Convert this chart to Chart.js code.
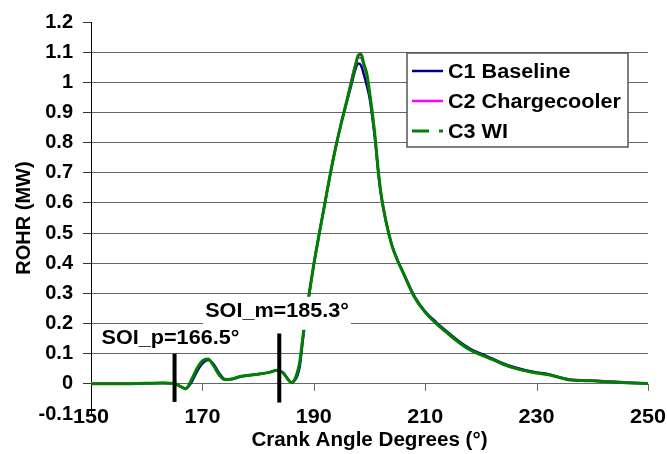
<!DOCTYPE html>
<html>
<head>
<meta charset="utf-8">
<script src="https://cdn.jsdelivr.net/npm/chart.js@4/dist/chart.umd.min.js"></script>
<style>
  html, body { margin: 0; padding: 0; background: #fff; }
  #wrap { width: 667px; height: 454px; }
</style>
</head>
<body>
<div id="wrap"><canvas id="rohrChart" width="667" height="454"></canvas></div>
<script>
// crank angle (deg) shared by all three runs
const crankAngle = [150, 155, 160, 163, 165, 166, 167, 168, 169, 170,
    171, 172, 173, 174, 175, 177, 180, 182, 183.5, 184.5,
    185.5, 186, 186.5, 187, 187.5, 188, 188.5, 189, 190, 191,
    192, 193, 194, 195, 196, 197, 197.5, 198, 198.5, 199,
    199.5, 200, 200.5, 201, 201.5, 202, 203, 204, 205, 206,
    208, 210, 212, 214, 216, 218, 220, 222, 224, 226,
    228, 230, 232, 234, 236, 238, 240, 243, 246, 250]

// ROHR (MW)
const rohrBaseline = [0, 0, 0.002, 0.003, 0.001, -0.008, -0.016, 0.004, 0.04, 0.068,
    0.079, 0.066, 0.036, 0.016, 0.015, 0.025, 0.032, 0.038, 0.045, 0.036,
    0.012, 0.004, 0.01, 0.025, 0.06, 0.14, 0.215, 0.275, 0.395, 0.5,
    0.6, 0.7, 0.79, 0.87, 0.94, 1.01, 1.045, 1.062, 1.055, 1.025,
    0.99, 0.95, 0.885, 0.81, 0.715, 0.635, 0.535, 0.462, 0.412, 0.372,
    0.293, 0.24, 0.204, 0.172, 0.142, 0.117, 0.1, 0.084, 0.068, 0.055,
    0.045, 0.038, 0.033, 0.022, 0.014, 0.011, 0.01, 0.007, 0.004, 0.001]

const rohrChargecooler = [0, 0, 0.002, 0.003, 0.001, -0.008, -0.016, 0.012, 0.05, 0.076,
    0.082, 0.06, 0.03, 0.014, 0.015, 0.025, 0.032, 0.038, 0.045, 0.036,
    0.012, 0.004, 0.012, 0.035, 0.075, 0.15, 0.22, 0.28, 0.397, 0.5,
    0.6, 0.7, 0.79, 0.87, 0.945, 1.03, 1.062, 1.082, 1.08, 1.05,
    1.02, 0.965, 0.895, 0.815, 0.718, 0.638, 0.535, 0.46, 0.41, 0.37,
    0.29, 0.237, 0.2, 0.168, 0.138, 0.113, 0.096, 0.081, 0.065, 0.052,
    0.043, 0.036, 0.031, 0.022, 0.015, 0.013, 0.011, 0.009, 0.006, 0.002]

const rohrWI = [0, 0, 0.002, 0.003, 0.001, -0.008, -0.016, 0.012, 0.05, 0.076,
    0.082, 0.06, 0.03, 0.014, 0.015, 0.025, 0.032, 0.038, 0.045, 0.036,
    0.012, 0.004, 0.012, 0.035, 0.075, 0.15, 0.22, 0.28, 0.397, 0.5,
    0.6, 0.7, 0.79, 0.87, 0.945, 1.02, 1.058, 1.09, 1.093, 1.06,
    1.03, 0.97, 0.9, 0.82, 0.72, 0.64, 0.535, 0.46, 0.41, 0.37,
    0.29, 0.237, 0.2, 0.168, 0.138, 0.113, 0.096, 0.081, 0.065, 0.052,
    0.043, 0.036, 0.031, 0.022, 0.013, 0.011, 0.01, 0.007, 0.004, 0.001]

const seriesLabels = ['C1 Baseline', 'C2 Chargecooler', 'C3 WI']
const seriesColors = ['#000080', '#ff00ff', '#008000']

// start of injection markers
const soiAngle = [165, 183.8]
const soiTop = [0.1, 0.167]
const soiBottom = [-0.06, -0.062]
const soiText = ['SOI_p=166.5°', 'SOI_m=185.3°']
const soiTextAt = [[151.9, 0.151], [170.5, 0.239]]

const xTickValues = [150, 170, 190, 210, 230, 250]
const yTickValues = [-0.1, 0, 0.1, 0.2, 0.3, 0.4, 0.5, 0.6, 0.7, 0.8, 0.9, 1, 1.1, 1.2]
const xTitle = 'Crank Angle Degrees (°)'

const FONT = 'Arial, "Liberation Sans", sans-serif'
Chart.defaults.font.family = FONT
Chart.defaults.color = '#000'

function toPoints(ys) {
    return crankAngle.map((x, i) => ({ x: x, y: ys[i] }))
}

// the picture's text runs a little wide, so stretch it sideways
function wideText(ctx, t, x, y, align, k) {
    k = k || 1.08
    const w = ctx.measureText(t).width * k
    let left = x
    if (align === 'center') left = x - w / 2
    ctx.save()
    ctx.translate(left, y)
    ctx.scale(k, 1)
    ctx.textAlign = 'left'
    ctx.fillText(t, 0, 0)
    ctx.restore()
    return w
}

const curveSets = [rohrBaseline, rohrChargecooler, rohrWI].map((ys, i) => ({
    label: seriesLabels[i],
    data: toPoints(ys),
    borderColor: seriesColors[i],
    borderWidth: [2.5, 2, 3][i],
    pointRadius: 0,
    cubicInterpolationMode: 'monotone',
    order: 3 - i
}))

const soiSets = soiAngle.map((a, i) => ({
    label: '',
    data: [{ x: a, y: soiBottom[i] }, { x: a, y: soiTop[i] }],
    borderColor: '#000',
    borderWidth: 4,
    pointRadius: 0,
    order: 0
}))

const extras = {
    id: 'extras',
    beforeDatasetsDraw(chart) {
        const { ctx, chartArea, scales: { x, y } } = chart
        const y0 = y.getPixelForValue(0)
        ctx.save()
        // small tick marks hanging under the zero line
        ctx.strokeStyle = '#666'
        ctx.lineWidth = 1
        xTickValues.slice(1).forEach(v => {
            const px = Math.round(x.getPixelForValue(v)) + 0.5
            ctx.beginPath()
            ctx.moveTo(px, y0)
            ctx.lineTo(px, y0 + 7)
            ctx.stroke()
        })
        // x tick labels and title (sit over the bottom edge like the original)
        ctx.fillStyle = '#000'
        ctx.font = 'bold 20px ' + FONT
        ctx.textBaseline = 'middle'
        x.ticks.forEach(t => {
            wideText(ctx, String(t.value), x.getPixelForValue(t.value), chartArea.bottom + 3, 'center')
        })
        wideText(ctx, xTitle, (chartArea.left + chartArea.right) / 2, chartArea.bottom + 26, 'center', 1.03)
        ctx.restore()
    },
    afterDatasetsDraw(chart) {
        const { ctx, scales: { x, y } } = chart
        ctx.save()
        ctx.font = 'bold 20px ' + FONT
        ctx.textBaseline = 'middle'
        soiText.forEach((t, i) => {
            const px = x.getPixelForValue(soiTextAt[i][0])
            const py = y.getPixelForValue(soiTextAt[i][1])
            const w = ctx.measureText(t).width * 1.08
            if (i === 1) {
                ctx.fillStyle = '#fff'
                ctx.fillRect(px - 2, py - 15, w + 4, 33)
            }
            ctx.fillStyle = '#000'
            wideText(ctx, t, px, py, 'left')
        })

        // legend box
        ctx.fillStyle = '#fff'
        ctx.fillRect(407, 53, 221, 94)
        ctx.strokeStyle = '#555'
        ctx.lineWidth = 1.5
        ctx.strokeRect(407, 53, 221, 94)
        seriesLabels.forEach((lab, i) => {
            const ry = 71 + i * 30
            ctx.strokeStyle = seriesColors[i]
            ctx.lineWidth = i === 2 ? 3 : 2.5
            ctx.setLineDash(i === 2 ? [17, 10] : [])
            ctx.beginPath()
            ctx.moveTo(412, ry)
            ctx.lineTo(443, ry)
            ctx.stroke()
            ctx.setLineDash([])
            ctx.fillStyle = '#000'
            wideText(ctx, lab, 448, ry + 1, 'left')
        })
        ctx.restore()
    }
}

new Chart(document.getElementById('rohrChart'), {
    type: 'line',
    data: { datasets: curveSets.concat(soiSets) },
    options: {
        responsive: false,
        animation: false,
        devicePixelRatio: 1,
        layout: { padding: { left: 0, right: 19, top: 16, bottom: 0 } },
        plugins: {
            legend: { display: false },
            tooltip: { enabled: false }
        },
        scales: {
            x: {
                type: 'linear',
                min: 150,
                max: 250,
                afterBuildTicks: s => { s.ticks = xTickValues.map(v => ({ value: v })) },
                afterFit: s => { s.height = 40 },
                grid: { display: false, drawTicks: false },
                border: { display: false },
                ticks: { display: false }
            },
            y: {
                min: -0.1,
                max: 1.2,
                afterBuildTicks: s => { s.ticks = yTickValues.map(v => ({ value: v })) },
                afterFit: s => { s.width = 91 },
                grid: {
                    color: c => (c.tick && (c.tick.value > 1.15 || c.tick.value < -0.05)) ? 'rgba(0,0,0,0)' : '#666',
                    tickColor: c => (c.tick && c.tick.value < -0.05) ? 'rgba(0,0,0,0)' : '#333',
                    tickLength: 8
                },
                border: { display: true, color: '#000', width: 1 },
                ticks: {
                    padding: 10,
                    font: { size: 20, weight: 'bold' },
                    callback: v => String(Math.round(v * 10) / 10)
                },
                title: {
                    display: true,
                    text: 'ROHR (MW)',
                    font: { size: 20, weight: 'bold' },
                    padding: { top: 12, bottom: 0 }
                }
            }
        }
    },
    plugins: [extras]
});
</script>
</body>
</html>
